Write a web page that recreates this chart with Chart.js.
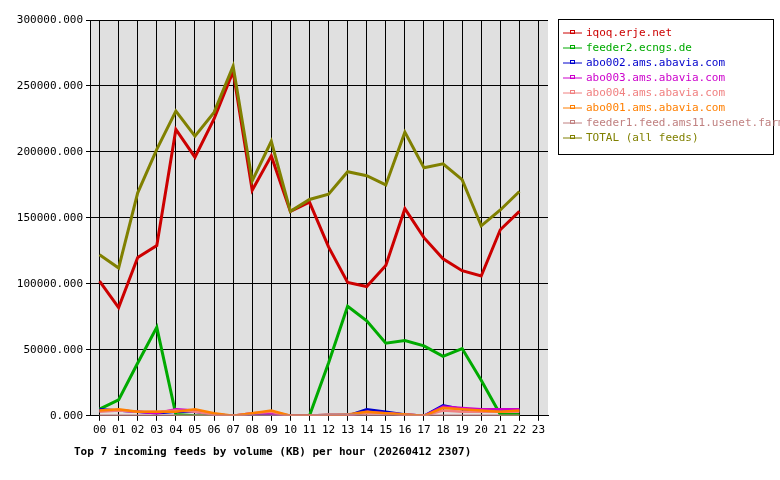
<!DOCTYPE html>
<html><head><meta charset="utf-8">
<script src="https://cdn.jsdelivr.net/npm/chart.js@4"></script>
<style>body{margin:0;background:#fff}#wrap{width:780px;height:480px;position:relative}</style>
</head><body><div id="wrap"><canvas id="c" width="780" height="480"></canvas></div>
<script>
const hours = [0,1,2,3,4,5,6,7,8,9,10,11,12,13,14,15,16,17,18,19,20,21,22];
const iqoq = [102000,82000,120000,129000,217000,196000,225000,261000,171000,197000,155000,162000,128000,101000,98000,114000,157000,135000,119000,110000,106000,141000,155000];
const feeder2 = [5000,12000,40000,67000,1000,0,0,0,0,0,0,0,40000,83000,72000,55000,57000,53000,45000,51000,27000,1000,1000];
const abo002 = [5000,4000,3000,2000,3000,3000,1000,0,1000,1000,0,0,0,0,5000,3000,1000,0,8000,5000,4000,4000,5000];
const abo003 = [4000,4000,3000,2000,5000,4000,1000,0,2000,2000,0,0,0,0,3000,2000,1000,0,7000,6000,5000,5000,5000];
const abo004 = [3000,4000,3000,3000,4000,3000,1000,0,2000,3000,0,0,1000,1000,2000,2000,1000,0,4000,3000,3000,3000,3000];
const abo001 = [4000,5000,3000,3000,3000,5000,2000,0,2000,4000,0,0,0,1000,3000,2000,1000,0,6000,5000,4000,3000,4000];
const feeder1 = [0,0,0,0,0,0,0,0,0,0,0,0,1000,1000,0,0,0,0,0,0,0,0,0];
const total = [122000,112000,169000,202000,231000,212000,230000,265000,178000,208000,155000,164000,168000,185000,182000,175000,215000,188000,191000,179000,144000,156000,170000];
const yTicks = [0,50000,100000,150000,200000,250000,300000];

const series = [
  ['iqoq.erje.net', iqoq, '#cc0000'],
  ['feeder2.ecngs.de', feeder2, '#00aa00'],
  ['abo002.ams.abavia.com', abo002, '#0000cc'],
  ['abo003.ams.abavia.com', abo003, '#cc00cc'],
  ['abo004.ams.abavia.com', abo004, '#f08080'],
  ['abo001.ams.abavia.com', abo001, '#ff7f00'],
  ['feeder1.feed.ams11.usenet.farm', feeder1, '#c08080'],
  ['TOTAL (all feeds)', total, '#808000']
];
const datasets = series.map(([label, vals, col]) => ({
  label: label,
  data: vals.map((v, i) => ({x: hours[i], y: v})),
  borderColor: col, backgroundColor: col,
  borderWidth: (label.startsWith('iqoq') || label.startsWith('TOTAL') || label.startsWith('feeder2')) ? 3 : 2.5,
  pointRadius: 0, tension: 0
})).reverse();

// draws the legend box on the right like the original
const legendBox = {
  id: 'legendBox',
  afterDraw(chart) {
    const c = chart.ctx;
    c.save();
    c.strokeStyle = '#000'; c.lineWidth = 1;
    c.strokeRect(558.5, 19.5, 215, 135);
    c.font = '11px "DejaVu Sans Mono"';
    c.textBaseline = 'middle';
    series.forEach(([label, vals, col], i) => {
      const y = 33 + i * 15;
      c.strokeStyle = col; c.fillStyle = col;
      c.beginPath(); c.moveTo(563, y); c.lineTo(582, y); c.stroke();
      c.strokeRect(570.5, y - 2.5, 4, 3);
      c.fillText(label, 586, y);
    });
    c.fillStyle = '#000';
    c.font = 'bold 11px "DejaVu Sans Mono"';
    c.fillText('Top 7 incoming feeds by volume (KB) per hour (20260412 2307)', 74, 452);
    c.restore();
  }
};
const plotBg = {
  id: 'plotBg',
  beforeDraw(chart) {
    const a = chart.chartArea, c = chart.ctx;
    c.fillStyle = '#e0e0e0';
    c.fillRect(a.left, a.top, a.right - a.left, a.bottom - a.top);
  }
};

new Chart(document.getElementById('c'), {
  type: 'line',
  data: { datasets: datasets },
  options: {
    responsive: false, animation: false,
    layout: { padding: { left: 0, top: 20, right: 232, bottom: 40 } },
    plugins: { legend: { display: false }, tooltip: { enabled: false } },
    scales: {
      x: {
        type: 'linear', min: -0.5, max: 23.5,
        afterBuildTicks: ax => { ax.ticks = hours.concat([23]).map(v => ({value: v})); },
        ticks: { color: '#000', font: { family: 'DejaVu Sans Mono', size: 11 }, maxRotation: 0, autoSkip: false,
          callback: v => String(v).padStart(2, '0') },
        grid: { color: '#000', lineWidth: 1, tickLength: 5, drawTicks: true },
        border: { color: '#000' }
      },
      y: {
        min: 0, max: 300000,
        afterBuildTicks: ax => { ax.ticks = yTicks.map(v => ({value: v})); },
        afterFit: ax => { ax.width = 90; },
        ticks: { color: '#000', font: { family: 'DejaVu Sans Mono', size: 11 }, callback: v => v.toFixed(0) + '.000' },
        grid: { color: '#000', lineWidth: 1, tickLength: 4 },
        border: { color: '#000' }
      }
    }
  },
  plugins: [plotBg, legendBox]
});
</script></body></html>
